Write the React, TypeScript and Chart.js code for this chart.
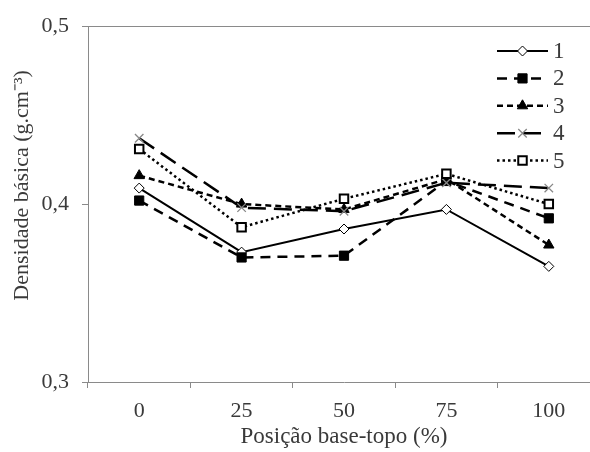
import React, { useEffect, useRef } from 'react';
import { Chart, registerables, PointElement } from 'chart.js';

Chart.register(...registerables);

const categories = ['0', '25', '50', '75', '100'];
const seriesNames = ['1', '2', '3', '4', '5'];
const s1 = [0.409, 0.373, 0.386, 0.397, 0.365];
const s2 = [0.402, 0.370, 0.371, 0.413, 0.392];
const s3 = [0.416, 0.400, 0.397, 0.414, 0.377];
const s4 = [0.437, 0.398, 0.396, 0.412, 0.409];
const s5 = [0.431, 0.387, 0.403, 0.417, 0.400];
const yTicks = [0.3, 0.4, 0.5];

const AXIS = '#8a8a8a';
const TEXT = '#3a3a3a';
const SERIF = '"Liberation Serif", "Times New Roman", serif';
const NBSP = '\u00A0';

const legendPlugin = {
  id: 'lineLegend',
  afterDraw(chart: any) {
    const ctx = chart.ctx as CanvasRenderingContext2D;
    const x0 = 497;
    const x1 = 548;
    const tx = 553;
    const yStart = 51;
    const dy = 27.4;
    chart.data.datasets.forEach((ds: any, i: number) => {
      const y = yStart + i * dy;
      ctx.save();
      ctx.strokeStyle = ds.borderColor;
      ctx.lineWidth = ds.borderWidth;
      ctx.setLineDash(ds.borderDash || []);
      ctx.beginPath();
      ctx.moveTo(x0, y);
      ctx.lineTo(x1, y);
      ctx.stroke();
      ctx.setLineDash([]);
      const pt: any = new (PointElement as any)({
        x: (x0 + x1) / 2,
        y,
        options: {
          pointStyle: ds.pointStyle,
          radius: ds.pointRadius,
          rotation: 0,
          borderWidth: ds.pointBorderWidth,
          borderColor: ds.pointBorderColor,
          backgroundColor: ds.pointBackgroundColor,
        },
      });
      pt.draw(ctx);
      ctx.fillStyle = TEXT;
      ctx.font = `23px ${SERIF}`;
      ctx.textAlign = 'left';
      ctx.textBaseline = 'middle';
      ctx.fillText(ds.label, tx, y + 1);
      ctx.restore();
    });
  },
};

export default function App() {
  const ref = useRef<HTMLCanvasElement | null>(null);

  useEffect(() => {
    if (!ref.current) return;
    const seriesData = [s1, s2, s3, s4, s5];
    const styles = [
      { borderDash: [], borderWidth: 2, pointStyle: 'rectRot', pointRadius: 5, bg: '#ffffff', bc: '#000000', bw: 1 },
      { borderDash: [10, 7], borderWidth: 2.5, pointStyle: 'rect', pointRadius: 6.5, bg: '#000000', bc: '#000000', bw: 1 },
      { borderDash: [6, 4], borderWidth: 2.5, pointStyle: 'triangle', pointRadius: 6, bg: '#000000', bc: '#000000', bw: 1 },
      { borderDash: [18, 8], borderWidth: 2.5, pointStyle: 'crossRot', pointRadius: 6, bg: '#888888', bc: '#888888', bw: 1.3 },
      { borderDash: [2.5, 3], borderWidth: 2.5, pointStyle: 'rect', pointRadius: 6, bg: '#ffffff', bc: '#000000', bw: 2 },
    ];
    const datasets = seriesData.map((d, i) => ({
      label: seriesNames[i],
      data: d,
      borderColor: '#000000',
      borderWidth: styles[i].borderWidth,
      borderDash: styles[i].borderDash,
      pointStyle: styles[i].pointStyle,
      pointRadius: styles[i].pointRadius,
      pointBackgroundColor: styles[i].bg,
      pointBorderColor: styles[i].bc,
      pointBorderWidth: styles[i].bw,
      tension: 0,
      fill: false,
      order: -i,
    }));

    const chart = new Chart(ref.current, {
      type: 'line',
      data: { labels: categories, datasets: datasets as any },
      options: {
        animation: false,
        responsive: false,
        events: [],
        layout: { padding: { top: 26, right: 20, bottom: 0, left: 0 } },
        plugins: { legend: { display: false }, tooltip: { enabled: false } },
        scales: {
          x: {
            offset: true,
            grid: { offset: true, drawOnChartArea: false, drawTicks: true, tickLength: 6, tickColor: AXIS, color: AXIS },
            border: { color: AXIS, width: 1 },
            ticks: { color: TEXT, font: { family: SERIF, size: 22 }, padding: 10, maxRotation: 0 },
            title: {
              display: true,
              text: 'Posição base-topo (%)',
              color: TEXT,
              font: { family: SERIF, size: 23 },
              padding: { top: 0, bottom: 1 },
            },
            afterFit: (scale: any) => {
              scale.height = 70;
            },
          },
          y: {
            min: yTicks[0],
            max: yTicks[yTicks.length - 1],
            afterBuildTicks: (scale: any) => {
              scale.ticks = yTicks.map((v) => ({ value: v }));
            },
            grid: {
              drawOnChartArea: true,
              tickLength: 6,
              tickColor: AXIS,
              color: (c: any) => (c.tick && Math.abs(c.tick.value - yTicks[yTicks.length - 1]) < 1e-9 ? AXIS : 'rgba(0,0,0,0)'),
            },
            border: { color: AXIS, width: 1 },
            ticks: {
              color: TEXT,
              font: { family: SERIF, size: 22 },
              padding: 13,
              callback: (v: any) => Number(v).toFixed(1).replace('.', ','),
            },
            title: {
              display: true,
              text: 'Densidade básica (g.cm⁻³)' + NBSP.repeat(8),
              align: 'end',
              color: TEXT,
              font: { family: SERIF, size: 22 },
              padding: { top: 9, bottom: 0 },
            },
            afterFit: (scale: any) => {
              scale.width = 88;
            },
          },
        },
      },
      plugins: [legendPlugin],
    });
    return () => chart.destroy();
  }, []);

  return (
    <div style={{ position: 'fixed', left: 0, top: 0, width: 590, height: 452, overflow: 'hidden', background: '#ffffff' }}>
      <canvas ref={ref} width={620} height={452} style={{ display: 'block', width: 620, height: 452 }} />
    </div>
  );
}
